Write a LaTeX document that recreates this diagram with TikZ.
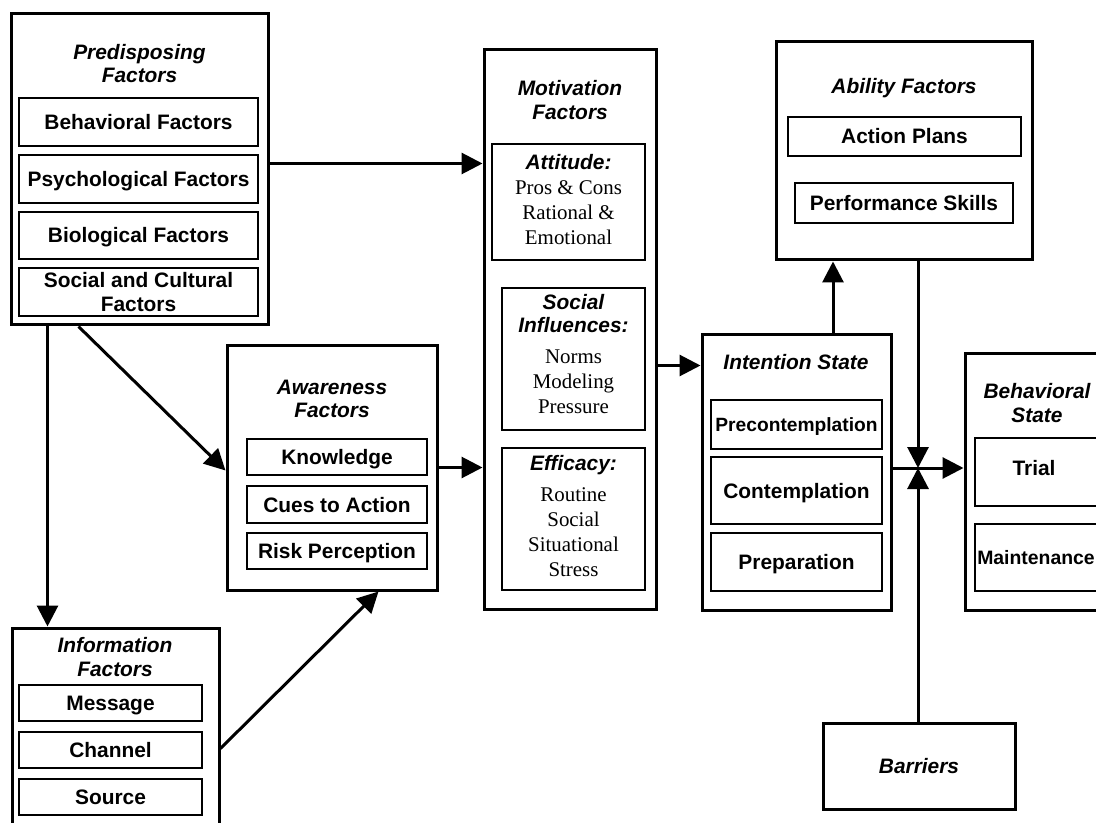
\documentclass[tikz,border=0pt]{standalone}
\usepackage{fontspec}
\setmainfont{Liberation Serif}
\setsansfont{Liberation Sans}
\usetikzlibrary{arrows.meta,fit,calc}
\newcommand{\mysize}{\fontsize{10.45}{11.8}\selectfont}
\newcommand{\hd}[1]{{\sffamily\bfseries\itshape #1}}
\begin{document}
\begin{tikzpicture}[x=0.5pt,y=-0.5pt,
  outer/.style={draw, line width=1.5pt, inner sep=0pt},
  inbox/.style={draw, line width=1pt, inner sep=0pt},
  txt/.style={align=center, font=\sffamily\bfseries\mysize, inner sep=0pt},
  one/.style={txt, text height=7.5pt, text depth=0pt},
  ttl/.style={align=center, font=\sffamily\bfseries\itshape\mysize, inner sep=0pt},
  ser/.style={align=center, font=\rmfamily\fontsize{10.45}{12.5}\selectfont, inner sep=0pt},
  arr/.style={line width=1.5pt, -{Triangle[length=10.5pt,width=10.5pt]}}
]
\useasboundingbox (0,0) rectangle (1096,823);
\clip (0,0) rectangle (1096,823);

% Predisposing
\node[outer, fit={(11,14)(268,325)}] (pre) {};
\node[ttl] (preT) at (139.5,63.5) {Predisposing\\Factors};
\node[inbox, fit={(19,98)(258,146)}] (pbeh) {};
\node[one] (pbehT) at (pbeh) {Behavioral Factors};
\node[inbox, fit={(19,155)(258,203)}] (ppsy) {};
\node[one] (ppsyT) at (ppsy) {Psychological Factors};
\node[inbox, fit={(19,212)(258,259)}] (pbio) {};
\node[one] (pbioT) at (pbio) {Biological Factors};
\node[inbox, fit={(19,268)(258,316)}] (psoc) {};
\node[txt] (psocT) at (psoc) {Social and Cultural\\Factors};

% Awareness
\node[outer, fit={(227,345)(437,590)}] (aw) {};
\node[ttl] (awT) at (332,399) {Awareness\\Factors};
\node[inbox, fit={(247,439)(427,475)}] (akn) {};
\node[one] (aknT) at (akn) {Knowledge};
\node[inbox, fit={(247,486)(427,523)}] (acu) {};
\node[one] (acuT) at (acu) {Cues to Action};
\node[inbox, fit={(247,533)(427,569)}] (ari) {};
\node[one] (ariT) at (ari) {Risk Perception};

% Motivation
\node[outer, fit={(484,50)(656,609)}] (mot) {};
\node[ttl] (motT) at (570,100) {Motivation\\Factors};
\node[inbox, fit={(492,144)(645,260)}] (matt) {};
\node[ser] (mattT) at (568.5,200) {\hd{Attitude:}\\Pros \& Cons\\Rational \&\\Emotional};
\node[inbox, fit={(502,288)(645,430)}] (msoc) {};
\node[ser] (msocT) at (573.5,354) {\hd{Social}\\[-1pt]\hd{Influences:}\\[3pt]Norms\\Modeling\\Pressure};
\node[inbox, fit={(502,448)(645,590)}] (meff) {};
\node[ser] (meffT) at (573.5,516) {\hd{Efficacy:}\\[3pt]Routine\\Social\\Situational\\Stress};

% Ability
\node[outer, fit={(776,42)(1032,260)}] (abl) {};
\node[ttl] (ablT) at (904,88) {Ability Factors};
\node[inbox, fit={(788,117)(1021,156)}] (aap) {};
\node[one] (aapT) at (aap) {Action Plans};
\node[inbox, fit={(795,183)(1013,223)}] (aps) {};
\node[one] (apsT) at (aps) {Performance Skills};

% Intention
\node[outer, fit={(702,335)(891,610)}] (int) {};
\node[ttl] (intT) at (796,362) {Intention State};
\node[inbox, fit={(711,400)(882,449)}] (ipre) {};
\node[one, font=\sffamily\bfseries\fontsize{9.6}{11}\selectfont, text height=6.9pt] (ipreT) at (ipre) {Precontemplation};
\node[inbox, fit={(711,457)(882,524)}] (icon) {};
\node[one] (iconT) at (icon) {Contemplation};
\node[inbox, fit={(711,533)(882,591)}] (iprep) {};
\node[one] (iprepT) at (iprep) {Preparation};

% Behavioral state
\node[outer, fit={(965,353)(1125,610)}] (bs) {};
\node[ttl] (bsT) at (1037,403) {Behavioral\\State};
\node[inbox, fit={(975,438)(1100,506)}] (btr) {};
\node[one] (btrT) at (1034,468) {Trial};
\node[inbox, fit={(975,524)(1100,591)}] (bma) {};
\node[one, font=\sffamily\bfseries\fontsize{9.7}{11}\selectfont, text height=7pt] (bmaT) at (1036,557) {Maintenance};

% Barriers
\node[outer, fit={(823,723)(1015,809)}] (bar) {};
\node[ttl, text height=7.5pt, text depth=0pt] (barT) at (bar) {Barriers};

% Information
\node[outer, fit={(12,628)(219,840)}] (inf) {};
\node[ttl] (infT) at (115,657) {Information\\Factors};
\node[inbox, fit={(19,685)(202,721)}] (ime) {};
\node[one] (imeT) at (ime) {Message};
\node[inbox, fit={(19,732)(202,768)}] (ich) {};
\node[one] (ichT) at (ich) {Channel};
\node[inbox, fit={(19,779)(202,815)}] (iso) {};
\node[one] (isoT) at (iso) {Source};

\coordinate (j) at (918,468);

% connectors
\draw[arr] (pre.east) ++(0,-6) coordinate (p1) -- (p1 -| mot.west);
\draw[arr] (aw.east) -- (aw.east -| mot.west);
\draw[arr] (mot.east) ++(0,36) coordinate (p3) -- (p3 -| int.west);
\draw[arr] (int.north) ++(36.5,0) coordinate (p4) -- (p4 |- abl.south);
\draw[arr] (abl.south) ++(14,0) coordinate (p5) -- (j);
\draw[arr] (bar.north -| j) -- (j);
\draw[arr] (int.east |- j) -- (j -| bs.west);
\draw[arr] (pre.south west) ++(38,0) coordinate (p8) -- (p8 |- inf.north);
\draw[arr] (pre.south west) ++(69,0) coordinate (p9) -- ($(aw.west)+(0,3)$);
\draw[arr] (inf.north east) ++(0,122) coordinate (p10) -- ($(aw.south west)+(153,0)$);
\end{tikzpicture}
\end{document}
